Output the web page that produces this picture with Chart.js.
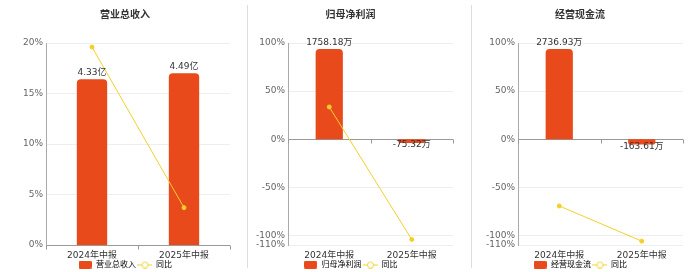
<!DOCTYPE html>
<html>
<head>
<meta charset="utf-8">
<script src="https://cdn.jsdelivr.net/npm/chart.js@4.4.1/dist/chart.umd.min.js"></script>
<style>
  html, body { margin: 0; padding: 0; background: #fff; }
  #wrap { position: relative; width: 700px; height: 272px; overflow: hidden; }
  canvas { position: absolute; top: 0; }
  .sep { position: absolute; top: 5px; width: 1px; height: 263px; background: #ddd; }
</style>
</head>
<body>
<div id="wrap">
  <canvas id="c1" width="247" height="272" style="left:0px"></canvas>
  <canvas id="c2" width="223" height="272" style="left:248px"></canvas>
  <canvas id="c3" width="229" height="272" style="left:471px"></canvas>
  <div class="sep" style="left:247px"></div>
  <div class="sep" style="left:471px"></div>
</div>
<script>
// data
const categories = ["2024年中报", "2025年中报"];
const titles = ["营业总收入", "归母净利润", "经营现金流"];
const units = ["亿", "万", "万"];
const revenue = [4.33, 4.49];
const revenueYoy = [19.6, 3.70];
const netProfit = [1758.18, -75.32];
const netProfitYoy = [33.5, -104.28];
const cashFlow = [2736.93, -163.61];
const cashFlowYoy = [-69.4, -105.98];
const revenueTicks = [0, 5, 10, 15, 20];
const profitTicks = [-110, -100, -50, 0, 50, 100];

const FONT = '"DejaVu Sans", "Noto Sans CJK SC", sans-serif';
const BAR = "#E84A1B";
const LINE = "#F2D02C";
Chart.defaults.font.family = FONT;

// legend icons
function barIcon() {
  const c = document.createElement("canvas");
  c.width = 13; c.height = 8;
  const g = c.getContext("2d");
  g.fillStyle = BAR;
  g.beginPath();
  g.roundRect(0, 0, 13, 8, 1.5);
  g.fill();
  return c;
}
function lineIcon() {
  const c = document.createElement("canvas");
  c.width = 15; c.height = 8;
  const g = c.getContext("2d");
  g.strokeStyle = LINE;
  g.lineWidth = 1;
  g.beginPath();
  g.moveTo(0, 4.5); g.lineTo(15, 4.5);
  g.stroke();
  g.fillStyle = "#fff";
  g.beginPath();
  g.arc(7.5, 4.5, 3, 0, Math.PI * 2);
  g.fill(); g.stroke();
  return c;
}

const valueLabels = {
  id: "valueLabels",
  afterDatasetsDraw(chart, args, opts) {
    const ctx = chart.ctx;
    const meta = chart.getDatasetMeta(0);
    const data = chart.data.datasets[0].data;
    ctx.save();
    ctx.font = "9px " + FONT;
    ctx.fillStyle = "#333";
    ctx.textAlign = "center";
    meta.data.forEach((bar, i) => {
      const v = data[i];
      const txt = v.toFixed(2) + opts.unit;
      if (v >= 0) {
        ctx.textBaseline = "bottom";
        ctx.fillText(txt, bar.x, bar.y - 2);
      } else {
        ctx.textBaseline = "middle";
        ctx.fillText(txt, bar.x, bar.y + 2);
      }
    });
    ctx.restore();
  }
};

const zeroTicks = {
  id: "zeroTicks",
  beforeDatasetsDraw(chart) {
    const { ctx, chartArea, scales } = chart;
    const y = Math.round(scales.y.getPixelForValue(0)) + 0.5;
    const n = chart.data.labels.length;
    const w = (chartArea.right - chartArea.left) / n;
    ctx.save();
    ctx.strokeStyle = "#999";
    ctx.lineWidth = 1;
    ctx.beginPath();
    for (let i = 0; i <= n; i++) {
      const x = Math.round(chartArea.left + i * w) + 0.5;
      ctx.moveTo(x, y);
      ctx.lineTo(x, y + 4);
    }
    ctx.stroke();
    ctx.restore();
  }
};

function makeChart(id, p) {
  new Chart(document.getElementById(id), {
    type: "bar",
    data: {
      labels: categories,
      datasets: [
        {
          label: p.title,
          data: p.bars,
          yAxisID: "y1",
          backgroundColor: BAR,
          borderRadius: 4,
          borderSkipped: "start",
          barPercentage: 0.33,
          categoryPercentage: 1,
          order: 2
        },
        {
          type: "line",
          label: "同比",
          data: p.yoy,
          yAxisID: "y",
          borderColor: LINE,
          borderWidth: 1,
          pointRadius: 2,
          pointBackgroundColor: LINE,
          pointBorderColor: LINE,
          order: 1
        }
      ]
    },
    options: {
      responsive: false,
      animation: false,
      layout: { padding: { left: p.pl, right: p.pr, top: 0, bottom: 1.5 } },
      plugins: {
        title: {
          display: true,
          text: p.title,
          color: "#333",
          font: { size: 10, weight: "bold" },
          padding: { top: 9, bottom: 22 }
        },
        legend: {
          position: "bottom",
          maxHeight: 12,
          labels: {
            usePointStyle: true,
            pointStyleWidth: 14,
            padding: 2,
            color: "#555",
            font: { size: 8 },
            generateLabels: () => [
              { text: p.title, pointStyle: barIcon(), fillStyle: BAR, strokeStyle: BAR, lineWidth: 0, hidden: false, datasetIndex: 0 },
              { text: "同比", pointStyle: lineIcon(), fillStyle: LINE, strokeStyle: LINE, lineWidth: 0, hidden: false, datasetIndex: 1 }
            ]
          }
        },
        tooltip: { enabled: false },
        valueLabels: { unit: p.unit }
      },
      scales: {
        x: {
          grid: { display: false, drawTicks: false },
          border: { display: false },
          afterFit: s => { s.height = 13.5; },
          ticks: { color: "#333", font: { size: 9, lineHeight: 1 }, padding: 6, maxRotation: 0 }
        },
        y: {
          min: p.ticks[0],
          max: p.ticks[p.ticks.length - 1],
          afterBuildTicks: s => { s.ticks = p.ticks.map(v => ({ value: v })); },
          afterFit: s => { s.width = p.yw; },
          ticks: { color: "#666", font: { size: 9 }, padding: 3, callback: v => v + "%" },
          grid: { drawTicks: false, color: c => (c.tick && c.tick.value === 0 ? "#999" : "#eee") },
          border: { color: "#aaa" }
        },
        y1: { display: false, min: p.y1min, max: p.y1max }
      }
    },
    plugins: [valueLabels, zeroTicks]
  });
}

makeChart("c1", {
  title: titles[0], unit: units[0], bars: revenue, yoy: revenueYoy, ticks: revenueTicks,
  y1min: 0, y1max: 5.28, pl: 20, pr: 17, yw: 26
});
makeChart("c2", {
  title: titles[1], unit: units[1], bars: netProfit, yoy: netProfitYoy, ticks: profitTicks,
  y1min: -1.1 * 1875, y1max: 1875, pl: 0, pr: 18, yw: 40
});
makeChart("c3", {
  title: titles[2], unit: units[2], bars: cashFlow, yoy: cashFlowYoy, ticks: profitTicks,
  y1min: -1.1 * 2919, y1max: 2919, pl: 6, pr: 17, yw: 41
});
</script>
</body>
</html>
